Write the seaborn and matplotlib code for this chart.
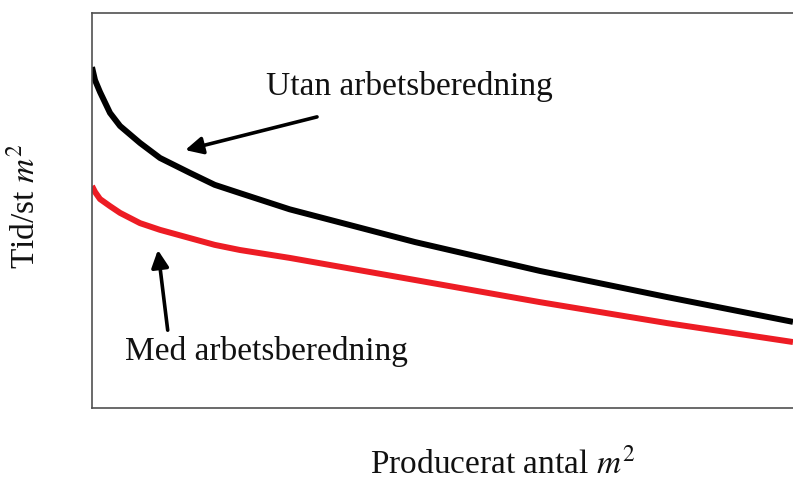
import pandas as pd
import seaborn as sns
import matplotlib.pyplot as plt

# Curve readings (x: produced m2, y: time per m2), arbitrary units 0-100
x_utan = [0, 0.43, 1.14, 2.57, 4.0, 6.85, 9.7, 14.0, 17.5, 21.1, 28.2, 46.1, 63.9, 82.0, 100]
y_utan = [86.3, 83.0, 80.0, 74.7, 71.4, 67.1, 63.3, 59.5, 56.5, 54.4, 50.3, 42.0, 34.7, 28.1, 21.8]
x_med = [0, 0.43, 1.14, 2.57, 4.0, 6.85, 9.7, 14.0, 17.5, 21.1, 28.2, 46.1, 63.9, 82.0, 100]
y_med = [56.2, 54.7, 52.9, 51.1, 49.4, 46.8, 45.1, 43.0, 41.3, 40.0, 38.0, 32.4, 26.8, 21.5, 16.7]

label_utan = 'Utan arbetsberedning'
label_med = 'Med arbetsberedning'
x_label = r'Producerat antal $m^2$'
y_label = r'Tid/st $m^2$'

df = pd.concat([
    pd.DataFrame({'x': x_utan, 'y': y_utan, 'serie': label_utan}),
    pd.DataFrame({'x': x_med, 'y': y_med, 'serie': label_med}),
])

sns.set_style('white')
plt.rcParams['font.family'] = ['Liberation Serif', 'DejaVu Serif']
plt.rcParams['mathtext.fontset'] = 'stix'
plt.rcParams['font.size'] = 24
plt.rcParams['text.color'] = '#111111'
plt.rcParams['axes.labelcolor'] = '#111111'

fig = plt.figure(figsize=(7.93, 4.84), dpi=100)
# right spine sits just outside the picture, like the cropped original
ax = fig.add_axes([92 / 793, 76 / 484, 708 / 793, 395 / 484])

sns.lineplot(data=df, x='x', y='y', hue='serie', sort=False, estimator=None,
             palette={label_utan: 'black', label_med: '#ED1C24'},
             linewidth=4.3, legend=False, ax=ax)
for line in ax.get_lines():
    line.set_solid_capstyle('butt')
    line.set_solid_joinstyle('round')

ax.set_xlim(0, 101)
ax.set_ylim(0, 100)
ax.set_xticks([])
ax.set_yticks([])
for spine in ax.spines.values():
    spine.set_color('#505050')
    spine.set_linewidth(1.2)

# labels
ax.set_xlabel(x_label)
ax.xaxis.set_label_coords(0.58, -0.1)
ax.set_ylabel(y_label)
ax.yaxis.set_label_coords(-0.072, 0.51)

# annotations with arrows
arrow = dict(arrowstyle='-|>', color='black', lw=2.6, mutation_scale=26, shrinkA=0, shrinkB=0)
ax.text(24.8, 81.5, label_utan, ha='left', va='center')
ax.annotate('', xy=(13.3, 65.3), xytext=(32.1, 73.7), arrowprops=arrow)
ax.text(4.7, 14.2, label_med, ha='left', va='center')
ax.annotate('', xy=(9.4, 40.0), xytext=(10.8, 19.7), arrowprops=arrow)

plt.savefig('out.png', dpi=100)
